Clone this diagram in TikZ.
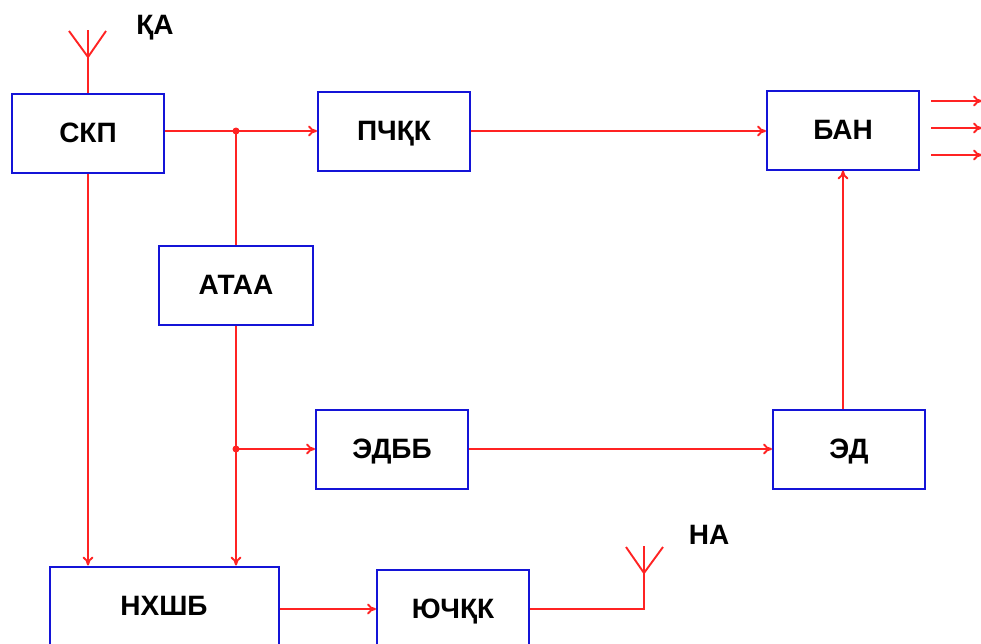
\documentclass[tikz,border=0pt]{standalone}
\usepackage{fontspec}
\setmainfont{Liberation Sans}
\usetikzlibrary{arrows.meta}
\definecolor{boxblue}{RGB}{20,20,215}
\definecolor{linered}{RGB}{255,35,35}

\begin{document}
\begin{tikzpicture}[
  x=1pt, y=-1pt,
  blk/.style={draw=boxblue, line width=2pt, fill=white,
    minimum width=152pt, minimum height=79pt, inner sep=0pt,
    text height=18pt, text depth=0pt,
    font=\fontsize{28}{32}\selectfont\bfseries},
  sig/.style={draw=linered, line width=1.9pt},
  >={To[length=9pt,width=11pt]},
  jdot/.style={fill=linered, circle, inner sep=0pt, minimum size=7pt},
  lbl/.style={font=\fontsize{28}{32}\selectfont\bfseries},
]
\useasboundingbox (0,0) rectangle (981,643);
\clip (0,0) rectangle (981,643);

% blocks
\node [blk] (skp) at (88,133) {СКП};
\node [blk] (pchk) at (394,131) {ПЧҚК};
\node [blk] (ban) at (843,130) {БАН};
\node [blk, minimum width=154pt] (ataa) at (236,285) {АТАА};
\node [blk] (edbb) at (392,449) {ЭДББ};
\node [blk] (ed) at (849,449) {ЭД};
\node [blk, minimum width=229pt] (nhshb) at (164,606) {НХШБ};
\node [blk] (yuchk) at (453,609) {ЮЧҚК};

% branch points
\coordinate (j1) at (ataa.north |- pchk.west);
\coordinate (j2) at (ataa.south |- edbb.west);

\draw [sig, ->] (skp.east |- pchk.west) -- (pchk.west);
\draw [sig] (j1) -- (ataa.north);
\node [jdot] at (j1) {};
\draw [sig, ->] (pchk.east) -- (ban.west |- pchk.east);
\draw [sig, ->] (skp.south) -- (skp.south |- nhshb.north);
\draw [sig, ->] (ataa.south) -- (ataa.south |- nhshb.north);
\draw [sig, ->] (j2) -- (edbb.west);
\node [jdot] at (j2) {};
\draw [sig, ->] (edbb.east) -- (ed.west);
\draw [sig, ->] (ed.north -| ban.south) -- (ban.south);
\draw [sig, ->] (nhshb.east |- yuchk.west) -- (yuchk.west);

\foreach \dy in {-29,-2,25}
  \draw [sig, ->] ([xshift=11pt,yshift=-\dy pt]ban.east) -- ++(51,0);

% receiving antenna
\coordinate (qa) at (88,57);
\draw [sig] (skp.north) -- (qa) -- ++(0,-27);
\draw [sig] (69,31) -- (qa) -- (106,31);
\node [lbl] (qalbl) at (155,28) {ҚА};

% transmitting antenna
\coordinate (na) at (644,573);
\draw [sig] (yuchk.east) -| (na) -- ++(0,-27);
\draw [sig] (626,547) -- (na) -- (663,547);
\node [lbl] (nalbl) at (709,535) {НА};

\end{tikzpicture}
\end{document}
